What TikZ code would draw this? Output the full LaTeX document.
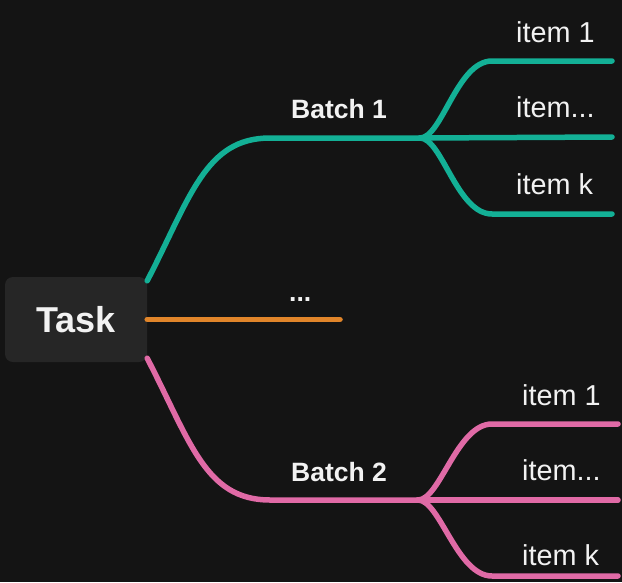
\documentclass[tikz,border=0pt]{standalone}
\usepackage{fontspec}
\setmainfont{Liberation Sans}
\definecolor{bg}{HTML}{141414}
\definecolor{nodebg}{HTML}{262626}
\definecolor{txt}{HTML}{F2F2F2}
\definecolor{tealc}{HTML}{13B096}
\definecolor{pinkc}{HTML}{E06AA6}
\definecolor{orangec}{HTML}{E0852A}
\begin{document}
\begin{tikzpicture}[x=1pt,y=-1pt,
  taskbox/.style={fill=nodebg, rounded corners=8pt, minimum width=142pt, minimum height=85pt, inner sep=0pt, text=txt, font=\bfseries\fontsize{36}{40}\selectfont},
  batchlabel/.style={anchor=base west, inner sep=0pt, text=txt, font=\bfseries\fontsize{26.5}{32}\selectfont},
  itemlabel/.style={anchor=base west, inner sep=0pt, text=txt, font=\fontsize{28.8}{32}\selectfont},
  branch/.style={line width=5.5pt, line cap=round, line join=round},
]
\useasboundingbox[fill=bg] (0,0) rectangle (622,582);

\node[taskbox] (task) at (76,319.5) {Task};

% labels
\node[batchlabel] (b1) at (291,118) {Batch 1};
\node[batchlabel] (b2) at (291,481) {Batch 2};
\node[batchlabel] (dots) at (289,301) {...};
\node[itemlabel] (i11) at (516,42) {item 1};
\node[itemlabel] (i12) at (516,117) {item...};
\node[itemlabel] (i13) at (516,194) {item k};
\node[itemlabel] (i21) at (522,405) {item 1};
\node[itemlabel] (i22) at (522,480) {item...};
\node[itemlabel] (i23) at (522,565) {item k};

% coordinates
\coordinate (t1) at ([yshift=-4pt]task.north east);
\coordinate (t2) at ([yshift=4pt]task.south east);
\coordinate (b1j) at (270,138);
\coordinate (b1f) at (420,138);
\coordinate (b2j) at (270,500);
\coordinate (b2f) at (418,500);
\coordinate (o1) at (340,319.5);
\coordinate (a1s) at (492,61);  \coordinate (a1e) at (612,61);
\coordinate (a2e) at (612,137);
\coordinate (a3s) at (492,214); \coordinate (a3e) at (612,214);
\coordinate (c1s) at (492,424); \coordinate (c1e) at (618,424);
\coordinate (c2e) at (618,500);
\coordinate (c3s) at (492,576); \coordinate (c3e) at (618,576);

% teal branch
\draw[branch, tealc] (t1) .. controls +(43,-83) and +(-65,0) .. (b1j) -- (b1f);
\draw[branch, tealc] (b1f) .. controls +(22,0) and +(-35,0) .. (a1s) -- (a1e);
\draw[branch, tealc] (b1f) -- (a2e);
\draw[branch, tealc] (b1f) .. controls +(22,0) and +(-35,0) .. (a3s) -- (a3e);

% orange branch
\draw[branch, orangec] (task.east) -- (o1);

% pink branch
\draw[branch, pinkc] (t2) .. controls +(43,83) and +(-65,0) .. (b2j) -- (b2f);
\draw[branch, pinkc] (b2f) .. controls +(22,0) and +(-35,0) .. (c1s) -- (c1e);
\draw[branch, pinkc] (b2f) -- (c2e);
\draw[branch, pinkc] (b2f) .. controls +(22,0) and +(-35,0) .. (c3s) -- (c3e);
\end{tikzpicture}
\end{document}
